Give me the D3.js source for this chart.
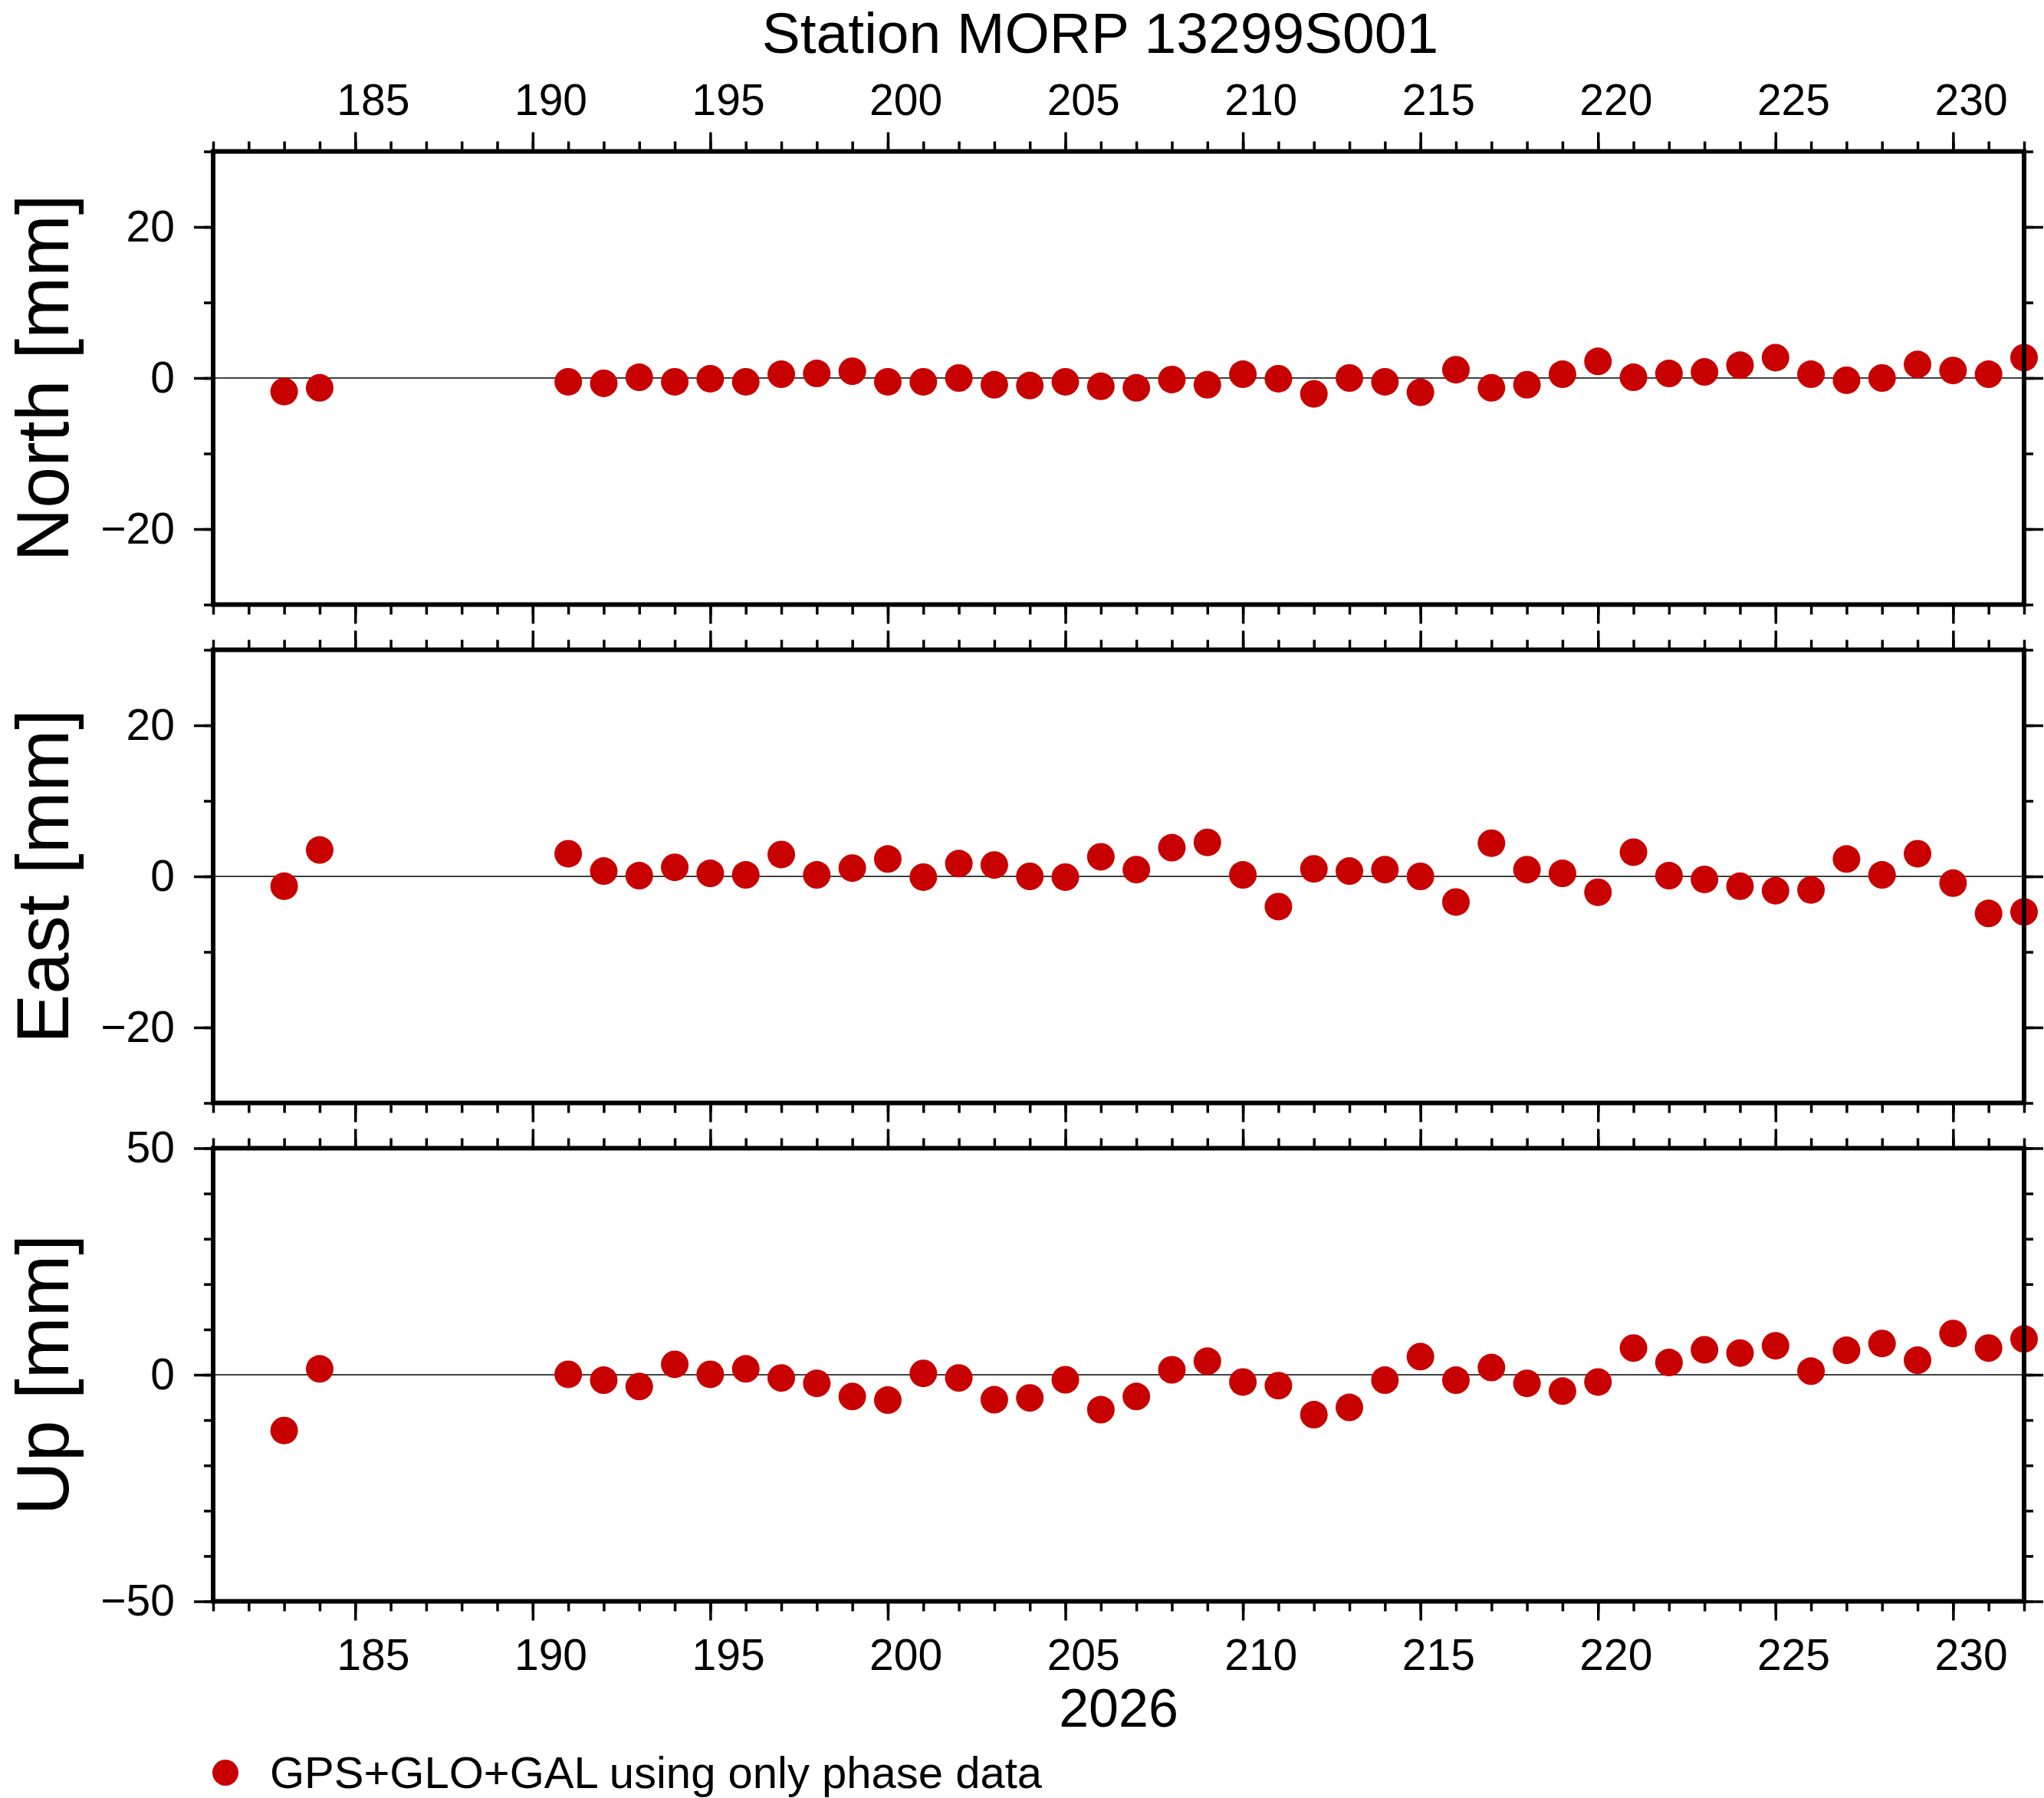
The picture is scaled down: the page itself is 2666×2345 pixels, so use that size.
<!DOCTYPE html>
<html>
<head>
<meta charset="utf-8">
<script src="https://cdn.jsdelivr.net/npm/d3@7"></script>
<style>
    body { margin: 0; background: #fff; }
    svg { display: block; }
    text { font-family: "Liberation Sans", Arial, Helvetica, sans-serif; fill: #000; }
</style>
</head>
<body>
<svg id="chart"></svg>
<script>
// day of year 2026
const days = [183, 184, 191, 192, 193, 194, 195, 196, 197, 198, 199, 200, 201, 202, 203,
    204, 205, 206, 207, 208, 209, 210, 211, 212, 213, 214, 215, 216, 217, 218, 219, 220,
    221, 222, 223, 224, 225, 226, 227, 228, 229, 230, 231, 232];

// residuals in mm
const north = [-1.8, -1.3, -0.5, -0.7, 0.1, -0.5, -0.1, -0.5, 0.5, 0.6, 0.9, -0.5, -0.5, 0.0,
    -0.9, -1.0, -0.5, -1.1, -1.3, -0.2, -0.9, 0.5, -0.1, -2.1, 0.0, -0.5, -1.9, 1.1, -1.3,
    -0.9, 0.5, 2.2, 0.1, 0.6, 0.8, 1.7, 2.7, 0.5, -0.3, 0.0, 1.8, 1.0, 0.5, 2.7];

const east = [-1.3, 3.5, 3.0, 0.7, 0.1, 1.2, 0.4, 0.2, 2.9, 0.2, 1.1, 2.3, -0.1, 1.7, 1.5,
    0.0, -0.1, 2.6, 0.9, 3.8, 4.5, 0.2, -4.0, 1.0, 0.7, 0.9, 0.0, -3.4, 4.4, 0.9, 0.4, -2.1,
    3.2, 0.1, -0.4, -1.3, -1.9, -1.8, 2.3, 0.2, 3.0, -0.9, -4.9, -4.7];

const up = [-12.3, 1.3, 0.1, -1.2, -2.6, 2.3, 0.1, 1.3, -0.7, -1.9, -4.8, -5.6, 0.3, -0.7,
    -5.5, -5.1, -1.1, -7.7, -4.8, 1.1, 3.0, -1.6, -2.4, -8.8, -7.2, -1.2, 4.0, -1.2, 1.6,
    -1.9, -3.6, -1.6, 5.9, 2.7, 5.5, 4.8, 6.4, 0.8, 5.4, 6.9, 3.2, 9.1, 5.9, 7.9];

const xLabels = [185, 190, 195, 200, 205, 210, 215, 220, 225, 230];
const neTicks = [-20, 0, 20];
const neMinor = [-30, -20, -10, 0, 10, 20, 30];
const upTicks = [-50, 0, 50];
const upMinor = [-50, -40, -30, -20, -10, 0, 10, 20, 30, 40, 50];

const title = 'Station MORP 13299S001';
const yearLabel = '2026';
const legendLabel = 'GPS+GLO+GAL using only phase data';

const W = 2666, H = 2345;
const plotLeft = 278, plotRight = 2640;
const panelH = 591;
const dotColor = '#c80000';

const panels = [
    { label: 'North [mm]', values: north, domain: [-30, 30], major: neTicks, minor: neMinor, top: 197.5 },
    { label: 'East [mm]', values: east, domain: [-30, 30], major: neTicks, minor: neMinor, top: 847.5 },
    { label: 'Up [mm]', values: up, domain: [-50, 50], major: upTicks, minor: upMinor, top: 1497.5 }
];

const svg = d3.select('#chart')
    .attr('width', W)
    .attr('height', H);

svg.append('rect')
    .attr('width', W)
    .attr('height', H)
    .attr('fill', '#fff');

const x = d3.scaleLinear()
    .domain([181, 232])
    .range([plotLeft, plotRight]);

const xMinor = d3.range(181, 233);

function styleAxis(g, fontSize) {
    g.select('.domain').remove();
    g.selectAll('.tick line')
        .attr('stroke', '#000')
        .attr('stroke-width', 3.5);
    g.selectAll('.tick text')
        .attr('fill', '#000')
        .style('font-size', `${fontSize}px`)
        .style('font-family', '"Liberation Sans", Arial, sans-serif');
}

panels.forEach((p, i) => {
    const g = svg.append('g')
        .attr('transform', `translate(0,${p.top})`);

    const y = d3.scaleLinear()
        .domain(p.domain)
        .range([panelH, 0]);

    // x ticks top and bottom
    g.append('g')
        .call(d3.axisTop(x).tickValues(xMinor).tickSize(13).tickFormat(''))
        .call(styleAxis, 57);
    g.append('g')
        .call(d3.axisTop(x).tickValues(xLabels).tickSize(25).tickFormat(''))
        .call(styleAxis, 57);
    g.append('g')
        .attr('transform', `translate(0,${panelH})`)
        .call(d3.axisBottom(x).tickValues(xMinor).tickSize(13).tickFormat(''))
        .call(styleAxis, 57);
    g.append('g')
        .attr('transform', `translate(0,${panelH})`)
        .call(d3.axisBottom(x).tickValues(xLabels).tickSize(25).tickFormat(''))
        .call(styleAxis, 57);

    // y ticks left and right
    g.append('g')
        .attr('transform', `translate(${plotLeft},0)`)
        .call(d3.axisLeft(y).tickValues(p.minor).tickSize(12).tickFormat(''))
        .call(styleAxis, 57);
    g.append('g')
        .attr('transform', `translate(${plotLeft},0)`)
        .call(d3.axisLeft(y).tickValues(p.major).tickSize(25).tickPadding(25).tickFormat(d3.format('d')))
        .call(styleAxis, 57);
    g.append('g')
        .attr('transform', `translate(${plotRight},0)`)
        .call(d3.axisRight(y).tickValues(p.minor).tickSize(12).tickFormat(''))
        .call(styleAxis, 57);
    g.append('g')
        .attr('transform', `translate(${plotRight},0)`)
        .call(d3.axisRight(y).tickValues(p.major).tickSize(25).tickFormat(''))
        .call(styleAxis, 57);

    // day labels sit in the middle of the day
    if (i === 0) {
        g.append('g')
            .call(d3.axisTop(x).tickValues(xLabels.map(d => d + 0.5)).tickSize(0).tickPadding(48).tickFormat(d => Math.floor(d)))
            .call(styleAxis, 57);
    }
    if (i === panels.length - 1) {
        g.append('g')
            .attr('transform', `translate(0,${panelH})`)
            .call(d3.axisBottom(x).tickValues(xLabels.map(d => d + 0.5)).tickSize(0).tickPadding(49).tickFormat(d => Math.floor(d)))
            .call(styleAxis, 57);
    }

    // zero line
    g.append('line')
        .attr('x1', plotLeft)
        .attr('x2', plotRight)
        .attr('y1', y(0))
        .attr('y2', y(0))
        .attr('stroke', '#000')
        .attr('stroke-width', 1.3);

    g.selectAll('circle')
        .data(days.map((d, k) => ({ day: d, v: p.values[k] })))
        .enter()
        .append('circle')
        .attr('cx', d => x(d.day))
        .attr('cy', d => y(d.v))
        .attr('r', 18)
        .attr('fill', dotColor);

    g.append('rect')
        .attr('x', plotLeft)
        .attr('y', 0)
        .attr('width', plotRight - plotLeft)
        .attr('height', panelH)
        .attr('fill', 'none')
        .attr('stroke', '#000')
        .attr('stroke-width', 6);

    g.append('text')
        .attr('transform', `translate(89,${panelH / 2}) rotate(-90)`)
        .attr('text-anchor', 'middle')
        .style('font-size', '97px')
        .text(p.label);
});

svg.append('text')
    .attr('x', 1435)
    .attr('y', 69)
    .attr('text-anchor', 'middle')
    .style('font-size', '75px')
    .text(title);

svg.append('text')
    .attr('x', (plotLeft + plotRight) / 2)
    .attr('y', 2252)
    .attr('text-anchor', 'middle')
    .style('font-size', '70px')
    .text(yearLabel);

// legend
svg.append('circle')
    .attr('cx', 294)
    .attr('cy', 2312)
    .attr('r', 17)
    .attr('fill', dotColor);

svg.append('text')
    .attr('x', 352)
    .attr('y', 2332)
    .style('font-size', '58px')
    .text(legendLabel);
</script>
</body>
</html>
